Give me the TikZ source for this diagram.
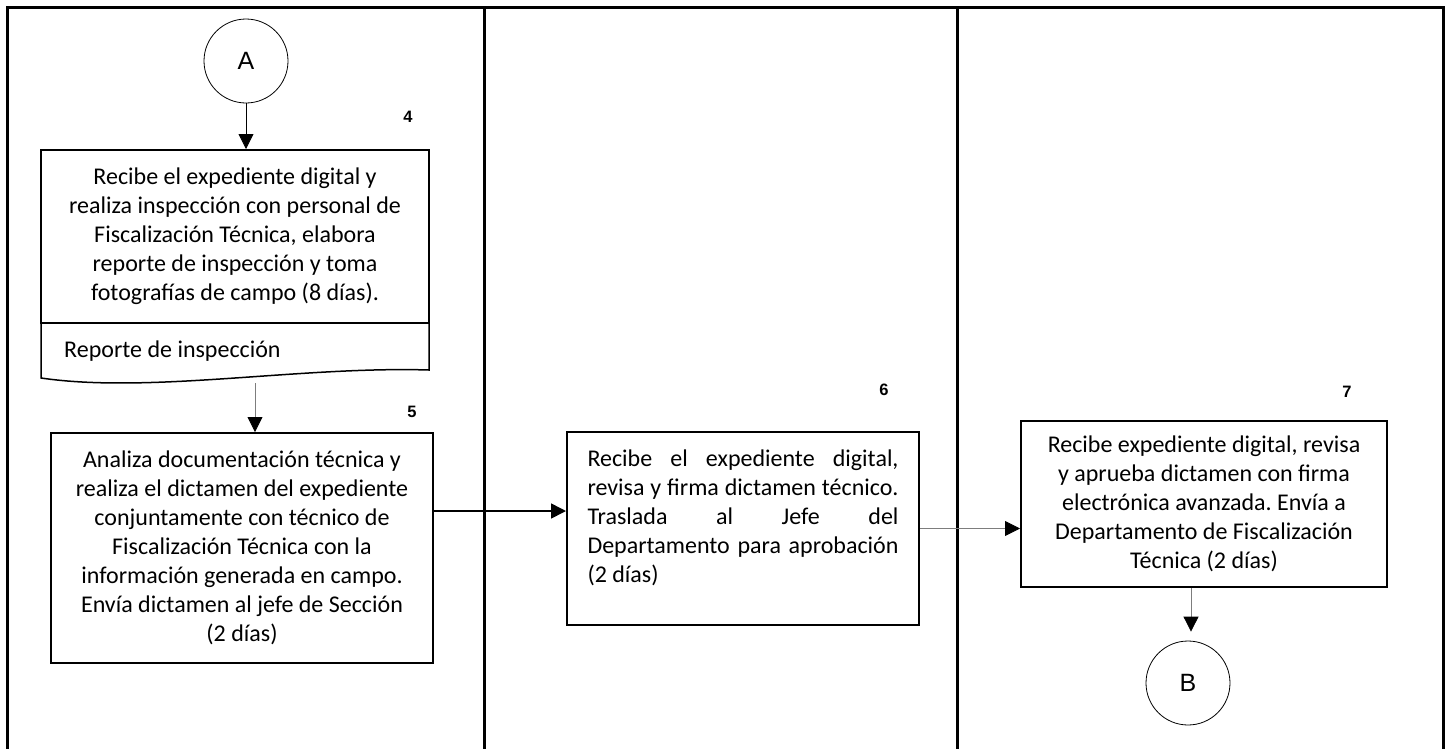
\documentclass[tikz,border=0pt]{standalone}
\usepackage{fontspec}
\setmainfont{Carlito}
\newfontfamily\arialf{Liberation Sans}
\usetikzlibrary{arrows.meta}
\definecolor{linegray}{RGB}{125,125,125}
\frenchspacing
\begin{document}
\begin{tikzpicture}[x=1pt,y=-1pt,
  procbox/.style={draw, line width=2pt, align=center, font=\frenchspacing\fontsize{24}{29}\selectfont, inner sep=0pt},
  plainbox/.style={draw, line width=2pt, font=\frenchspacing\fontsize{24}{29}\selectfont, inner sep=0pt},
  conn/.style={draw, circle, line width=0.8pt, minimum size=84pt, inner sep=0pt, font=\arialf\fontsize{25}{28}\selectfont},
  num/.style={font=\arialf\bfseries\fontsize{16.5}{18}\selectfont, inner sep=0pt},
  arr/.style={line width=0.8pt, -{Triangle[length=15pt,width=15pt]}},
  thickarr/.style={line width=1.6pt, -{Triangle[length=15pt,width=15pt]}},
  garr/.style={line width=0.8pt, draw=linegray, -{Triangle[length=15pt,width=15pt,color=black]}},
  frame/.style={line width=3pt}]
\useasboundingbox (0,0) rectangle (1452,748);
\clip (0,0) rectangle (1452,748);
\fill[white] (0,0) rectangle (1452,748);

% swimlane frame
\draw[frame] (7,7) rectangle (1443,770);
\draw[frame] (484,7) -- (484,770);
\draw[frame] (957,7) -- (957,770);

% connectors
\node[conn] (A) at (246,61) {A};
\node[conn] (B) at (1188,683) {B};

% step numbers
\node[num] (n4) at (408,117) {4};
\node[num] (n5) at (412,412) {5};
\node[num] (n6) at (884,390) {6};
\node[num] (n7) at (1347,392) {7};

% process boxes
\node[procbox, minimum width=388pt, minimum height=173pt] (b4) at (235,236.5)
 {Recibe el expediente digital y\\ realiza inspección con personal de\\ Fiscalización Técnica, elabora\\ reporte de inspección y toma\\ fotografías de campo (8 días).};

% document shape
\draw[line width=1.5pt] (41,323) -- (41,378) .. controls (150,394) and (300,366) .. (429,370) -- (429,323);
\node[font=\fontsize{24}{29}\selectfont, anchor=base west, inner sep=0pt] (doc) at (64,357) {Reporte de inspección};
\coordinate (docb) at (255,383);

\node[procbox, minimum width=382pt, minimum height=230pt] (b5) at (242,548)
 {Analiza documentación técnica y\\ realiza el dictamen del expediente\\ conjuntamente con técnico de\\ Fiscalización Técnica con la\\ información generada en campo.\\ Envía dictamen al jefe de Sección\\ (2 días)};

\node[plainbox, minimum width=352pt, minimum height=193pt] (b6) at (743,528.5)
 {\parbox[c][193pt][t]{311pt}{\rule{0pt}{34pt}\makebox[311pt][s]{Recibe\hfill el\hfill expediente\hfill digital,}\\
 \makebox[311pt][s]{revisa y firma dictamen técnico.}\\
 \makebox[311pt][s]{Traslada\hfill al\hfill Jefe\hfill del}\\
 \makebox[311pt][s]{Departamento para aprobación}\\
 (2 días)}};

\node[procbox, minimum width=366pt, minimum height=166pt] (b7) at (1204,504)
 {Recibe expediente digital, revisa\\ y aprueba dictamen con firma\\ electrónica avanzada. Envía a\\ Departamento de Fiscalización\\ Técnica (2 días)};

% arrows
\draw[arr] (A.south) -- (A.south |- b4.north);
\draw[garr] (docb) -- (docb |- b5.north);
\draw[thickarr] (b5.east |- 0,511) -- (b6.west |- 0,511);
\draw[garr] (b6.east) -- (b6.east -| b7.west);
\draw[garr] (b7.south -| 1191,0) -- ([yshift=9pt]B.north -| 1191,0);
\end{tikzpicture}
\end{document}
